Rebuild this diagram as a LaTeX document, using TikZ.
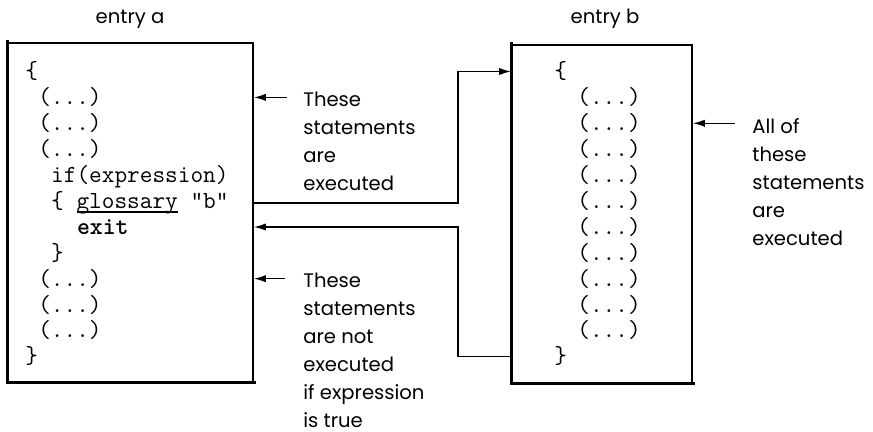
\documentclass[tikz,border=0pt]{standalone}
\usepackage{fontspec}
\setmainfont{Poppins}
\usetikzlibrary{arrows.meta}
\newcommand\codefont{\ttfamily\addfontfeatures{FakeBold=1.2}\fontsize{12.3}{13}\selectfont}
\newcommand\notefont{\fontsize{9.8}{14}\selectfont}
% thick underline under a keyword
\newcommand\ulword[1]{\setbox0=\hbox{#1}\rlap{\rule[-2.2pt]{\wd0}{1pt}}\box0\relax}
\tikzset{
  codebox/.style={rectangle, draw, line width=0.8pt, inner sep=0pt},
  heavy/.style={line width=1.7pt, line cap=rect},
  code/.style={anchor=base west, inner sep=0pt, font=\codefont},
  note/.style={anchor=base west, inner sep=0pt, align=left, font=\notefont},
  heading/.style={anchor=base, inner sep=0pt, font=\notefont},
  arrow/.style={-{Latex[length=6pt, width=3.6pt]}, line width=0.75pt}
}

\begin{document}
\begin{tikzpicture}[x=0.5pt, y=-0.5pt]
  \useasboundingbox (0,0) rectangle (873,432);
  % the two routines
  \node[codebox, minimum width=122.5pt, minimum height=169.5pt] (boxa) at (130.5,212.5) {};
  \node[codebox, minimum width=90pt, minimum height=169pt] (boxb) at (602,214) {};
  \draw[heavy] (boxa.north west) -- (boxa.south west) -- (boxa.south east);
  \draw[heavy] (boxb.north west) -- (boxb.south west) -- (boxb.south east);
  \node[heading] (entrya) at (130,24) {entry a};
  \node[heading] (entryb) at (605,24) {entry b};
  % body of entry a
  \node[code] (aopen) at (25,79) {\{};
  \foreach \i in {1,2,3}
    \node[code] (a\i) at (37.9,79+25.9*\i) {(...)};
  \node[code] (aif) at (50.8,182.6) {if(expression)};
  \node[code] (glos) at (50.8,208.5) {\{ \ulword{glossary} "b"};
  \node[code] (aexit) at (76.6,234.4) {\bfseries exit};
  \node[code] (aclose) at (50.8,260.3) {\}};
  \foreach \i in {4,5,6}
    \node[code] (a\i) at (37.9,182.6+25.9*\i) {(...)};
  \node[code] (aend) at (25,363.9) {\}};
  % body of entry b
  \node[code] (bopen) at (554,79) {\{};
  \foreach \i in {1,...,10}
    \node[code] (b\i) at (577,79+25.9*\i) {(...)};
  \node[code] (bend) at (554,363.9) {\}};
  % notes (base = last line)
  \node[note] (noteexec) at (303,191) {These\\statements\\are\\executed};
  \node[note] (noteskip) at (303,428) {These\\statements\\are not\\executed\\if expression\\is true};
  \node[note] (noteall) at (752,246) {All of\\these\\statements\\are\\executed};
  \coordinate (execfrom) at (287,0);
  \coordinate (skipfrom) at (285,0);
  \coordinate (allfrom) at (735,0);
  \coordinate (bus) at (458,0);
  \draw[arrow] (execfrom |- a1) -- (boxa.east |- a1);
  \draw[arrow] (skipfrom |- a4) -- (boxa.east |- a4);
  \draw[arrow] (allfrom |- b2) -- (boxb.east |- b2);
  % jump to entry b and back
  \draw[arrow] (boxa.east |- glos) -- (bus |- glos) -- (bus |- bopen) -- (boxb.west |- bopen);
  \draw[arrow] (boxb.west |- bend) -- (bus |- bend) -- (bus |- aexit) -- (boxa.east |- aexit);
\end{tikzpicture}
\end{document}
